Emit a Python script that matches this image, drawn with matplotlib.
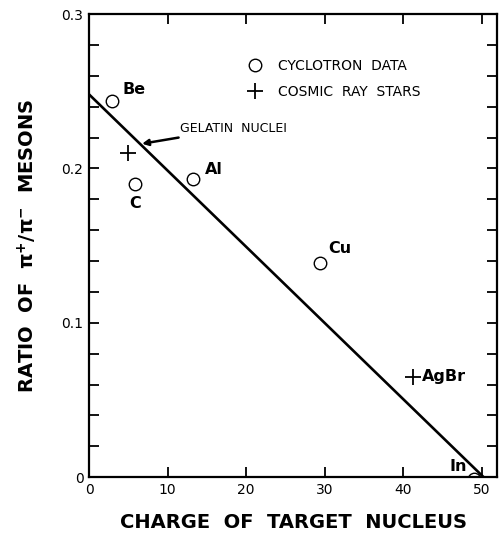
import matplotlib
matplotlib.use("Agg")
import matplotlib.pyplot as plt
from matplotlib.ticker import MultipleLocator, FixedLocator

# cyclotron data (open circles)
cyc_names = ['Be', 'C', 'Al', 'Cu', 'In']
cyc_z = [2.9, 5.85, 13.2, 29.4, 49.0]
cyc_ratio = [0.244, 0.190, 0.193, 0.139, -0.001]

# cosmic ray stars (plus signs)
star_names = ['', 'AgBr']
star_z = [5.0, 41.2]
star_ratio = [0.210, 0.065]

# fitted straight line
line_z = [0, 50.2]
line_ratio = [0.248, 0.0]

fig = plt.figure(figsize=(5.0, 5.41), dpi=100)
ax = fig.add_axes([0.178, 0.118, 0.816, 0.856])

ax.plot(line_z, line_ratio, color='black', lw=1.9)
circ, = ax.plot(cyc_z, cyc_ratio, 'o', mfc='white', mec='black', mew=1.0, ms=9, ls='none')
plus, = ax.plot(star_z, star_ratio, '+', color='black', mew=1.3, ms=12, ls='none')

# point labels
lab_font = dict(fontsize=11.5, fontweight='bold', color='black')
ax.text(4.2, 0.251, 'Be', va='center', ha='left', **lab_font)
ax.text(5.9, 0.177, 'C', va='center', ha='center', **lab_font)
ax.text(14.8, 0.199, 'Al', va='center', ha='left', **lab_font)
ax.text(30.4, 0.148, 'Cu', va='center', ha='left', **lab_font)
ax.text(47.0, 0.007, 'In', va='center', ha='center', **lab_font)
ax.text(42.3, 0.065, 'AgBr', va='center', ha='left', **lab_font)

ax.annotate('GELATIN  NUCLEI', xy=(6.75, 0.216), xytext=(11.6, 0.226),
            fontsize=9, va='center', ha='left',
            arrowprops=dict(arrowstyle='-|>', color='black', lw=1.8,
                            mutation_scale=9, shrinkA=0, shrinkB=0))

ax.legend([circ, plus], ['CYCLOTRON  DATA', 'COSMIC  RAY  STARS'],
          loc='upper left', bbox_to_anchor=(0.355, 0.93), frameon=False,
          fontsize=10, handletextpad=1.1, labelspacing=0.85, handlelength=1.2)

ax.set_xlim(0, 51.9)
ax.set_ylim(0, 0.3)
ax.xaxis.set_major_locator(FixedLocator([0, 10, 20, 30, 40, 50]))
ax.yaxis.set_major_locator(FixedLocator([0, 0.1, 0.2, 0.3]))
ax.yaxis.set_minor_locator(MultipleLocator(0.02))
ax.set_xticklabels(['0', '10', '20', '30', '40', '50'], fontsize=10)
ax.set_yticklabels(['0', '0.1', '0.2', '0.3'], fontsize=10)
ax.tick_params(which='both', direction='in', top=True, right=True, width=1.3, length=7, pad=4)
for s in ax.spines.values():
    s.set_linewidth(1.6)

ax.set_xlabel('CHARGE  OF  TARGET  NUCLEUS', fontsize=14, fontweight='bold', labelpad=12)
ax.set_ylabel('RATIO  OF  $\\mathbf{\\pi^{+}/\\pi^{-}}$  MESONS', fontsize=14, fontweight='bold', labelpad=16)

fig.savefig('out.png', dpi=100)
